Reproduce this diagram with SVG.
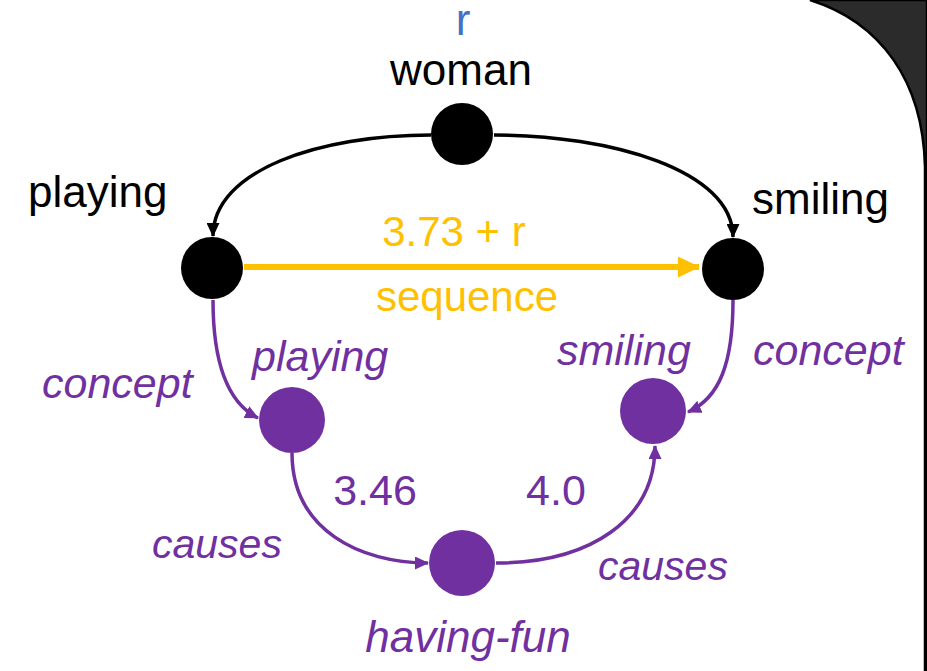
<svg xmlns="http://www.w3.org/2000/svg" width="927" height="671" viewBox="0 0 927 671">
<style>
.t{font-family:"Liberation Sans",Arial,sans-serif;font-size:44px}
.k{fill:#000}
.p{fill:#7030a0}
.i{font-style:italic;font-size:43px}
.y{fill:#ffc000;font-size:42px}
.e{fill:none;stroke-width:3.5}
.eb{stroke:#000;marker-end:url(#ab)}
.ep{stroke:#7030a0;marker-end:url(#ap)}
</style>
<defs>
<marker id="ab" markerUnits="userSpaceOnUse" viewBox="0 0 14 13" refX="13" refY="6.5" markerWidth="14" markerHeight="13" orient="auto"><path d="M0,0 L14,6.5 L0,13 Z" fill="#000"/></marker>
<marker id="ap" markerUnits="userSpaceOnUse" viewBox="0 0 14 13" refX="13" refY="6.5" markerWidth="14" markerHeight="13" orient="auto"><path d="M0,0 L14,6.5 L0,13 Z" fill="#7030a0"/></marker>
<marker id="ay" markerUnits="userSpaceOnUse" viewBox="0 0 22 21" refX="21" refY="10.5" markerWidth="22" markerHeight="21" orient="auto"><path d="M0,0 L22,10.5 L0,21 Z" fill="#ffc000"/></marker>
</defs>
<rect width="927" height="671" fill="#fff"/>
<path d="M810,0 C880,22 923,80 925,167 L925,671 L927,671 L927,0 Z" fill="#2b2b2b" stroke="#000" stroke-width="2.5"/>
<g id="connectors">
<path class="e eb" d="M431,135 C320,135 213,170 213,236"/>
<path class="e eb" d="M494,135 C610,135 733,170 733,237"/>
<path d="M244,267 L699,267" fill="none" stroke="#ffc000" stroke-width="6" marker-end="url(#ay)"/>
<path class="e ep" d="M213,300 C213,360 226,402 258,418"/>
<path class="e ep" d="M733,300 C733,362 720,398 688,412"/>
<path class="e ep" d="M292,453 C292,530 360,563 428,563"/>
<path class="e ep" d="M496,563 C590,563 655,520 655,446"/>
</g>
<g id="woman">
<circle cx="462" cy="134" r="31" fill="#000"/>
<text class="t k" x="461" y="85" text-anchor="middle">woman</text>
<text class="t" x="463" y="35" text-anchor="middle" fill="#4472c4">r</text>
</g>
<g id="playing">
<circle cx="212" cy="268" r="31" fill="#000"/>
<text class="t k" x="28" y="207">playing</text>
</g>
<g id="smiling">
<circle cx="733" cy="269" r="31" fill="#000"/>
<text class="t k" x="752" y="214">smiling</text>
</g>
<g id="sequence-label">
<text class="t y" x="454" y="246" text-anchor="middle">3.73 + r</text>
<text class="t y" x="467" y="311" text-anchor="middle">sequence</text>
</g>
<g id="playing-concept">
<circle cx="292" cy="420" r="33" fill="#7030a0"/>
<text class="t p i" x="252" y="371">playing</text>
<text class="t p i" x="42" y="398">concept</text>
</g>
<g id="smiling-concept">
<circle cx="653" cy="411" r="33" fill="#7030a0"/>
<text class="t p i" x="557" y="365">smiling</text>
<text class="t p i" x="753" y="365">concept</text>
</g>
<g id="having-fun">
<circle cx="462" cy="563" r="33" fill="#7030a0"/>
<text class="t p i" x="468" y="652" text-anchor="middle" style="font-size:44px">having-fun</text>
</g>
<g id="edge-labels">
<text class="t p" x="375" y="505" text-anchor="middle" style="font-size:43px">3.46</text>
<text class="t p" x="556" y="505" text-anchor="middle" style="font-size:43px">4.0</text>
<text class="t p i" x="152" y="558" style="font-size:41px">causes</text>
<text class="t p i" x="598" y="580" style="font-size:41px">causes</text>
</g>
</svg>
